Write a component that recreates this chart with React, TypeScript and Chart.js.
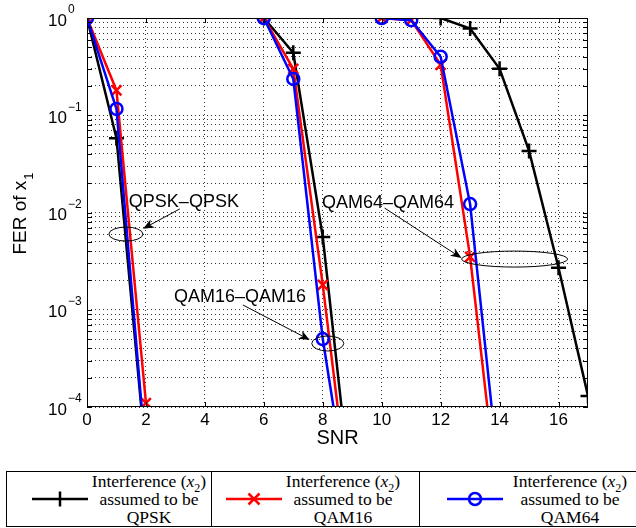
import { useEffect, useRef } from 'react'
import { Chart, registerables } from 'chart.js'

Chart.register(...registerables)

// SNR points of each modulation pair (x1 - x2)
const snrQpsk = [0, 1, 2]
const snrQam16 = [6, 7, 8, 9]
const snrQam64 = [10, 11, 12, 13, 14]
const snrQam64AsQpsk = [12, 13, 14, 15, 16, 17]

// FER of x1, interference assumed to be QPSK (black)
const ferQpskAsQpsk = [1, 0.058, 3e-5]
const ferQam16AsQpsk = [1, 0.44, 0.0056, 1e-5]
const ferQam64AsQpsk = [1, 0.78, 0.3, 0.043, 0.0027, 1.3e-4]

// FER of x1, interference assumed to be QAM16 (red)
const ferQpskAsQam16 = [1, 0.18, 1.1e-4]
const ferQam16AsQam16 = [1, 0.3, 0.0018, 6e-6]
const ferQam64AsQam16 = [1, 0.95, 0.33, 0.0035, 8e-6]

// FER of x1, interference assumed to be QAM64 (blue)
const ferQpskAsQam64 = [1, 0.116, 3e-5]
const ferQam16AsQam64 = [1, 0.236, 5e-4, 6e-6]
const ferQam64AsQam64 = [1, 0.95, 0.4, 0.0122, 1.7e-5]

const xTicks = [0, 2, 4, 6, 8, 10, 12, 14, 16]
const yDecades = [0, -1, -2, -3, -4]
const legendNames = ['QPSK', 'QAM16', 'QAM64']

// annotation: label, text anchor, ellipse centre, arrow start / end (data coords)
const annotations = [
  { label: 'QPSK–QPSK', text: [1.42, 0.0128], ellipse: [1.32, 0.006], rx: 17, ry: 7, from: [3.15, 0.0109], to: [1.9, 0.0068] },
  { label: 'QAM16–QAM16', text: [2.95, 0.00134], ellipse: [8.17, 4.5e-4], rx: 16, ry: 7.5, from: [5.29, 0.00112], to: [7.56, 4.9e-4] },
  { label: 'QAM64–QAM64', text: [7.97, 0.0124], ellipse: [14.51, 0.00332], rx: 53, ry: 8, from: [10.1, 0.0111], to: [12.71, 0.0034] }
]

const styles = [
  { color: '#000000', pointStyle: 'cross', radius: 7.5, order: 3 },
  { color: '#ff0000', pointStyle: 'crossRot', radius: 7, order: 2 },
  { color: '#0000ff', pointStyle: 'circle', radius: 6, order: 1 }
]

const curves = [
  { snr: snrQpsk, fer: ferQpskAsQpsk, kind: 0 },
  { snr: snrQam16, fer: ferQam16AsQpsk, kind: 0 },
  { snr: snrQam64AsQpsk, fer: ferQam64AsQpsk, kind: 0 },
  { snr: snrQpsk, fer: ferQpskAsQam16, kind: 1 },
  { snr: snrQam16, fer: ferQam16AsQam16, kind: 1 },
  { snr: snrQam64, fer: ferQam64AsQam16, kind: 1 },
  { snr: snrQpsk, fer: ferQpskAsQam64, kind: 2 },
  { snr: snrQam16, fer: ferQam16AsQam64, kind: 2 },
  { snr: snrQam64, fer: ferQam64AsQam64, kind: 2 }
]

// all log grid positions 1..9 x 10^k
const yGrid: number[] = []
for (let e = -4; e < 0; e++) {
  for (let m = 1; m < 10; m++) yGrid.push(m * Math.pow(10, e))
}
yGrid.push(1)

const SANS = '"Liberation Sans", Arial, sans-serif'

function drawArrow(ctx: CanvasRenderingContext2D, x1: number, y1: number, x2: number, y2: number) {
  const ang = Math.atan2(y2 - y1, x2 - x1)
  const c = Math.cos(ang)
  const s = Math.sin(ang)
  const len = 11
  const half = 4.5
  const notch = 3
  ctx.beginPath()
  ctx.moveTo(x1, y1)
  ctx.lineTo(x2 - c * (len - notch), y2 - s * (len - notch))
  ctx.stroke()
  const bx = x2 - c * len
  const by = y2 - s * len
  ctx.beginPath()
  ctx.moveTo(x2, y2)
  ctx.lineTo(bx - s * half, by + c * half)
  ctx.lineTo(x2 - c * (len - notch), y2 - s * (len - notch))
  ctx.lineTo(bx + s * half, by - c * half)
  ctx.closePath()
  ctx.fill()
}

const matlabOverlay = {
  id: 'matlabOverlay',
  afterDatasetsDraw(chart: any) {
    const { ctx, chartArea: a, scales } = chart
    const xs = scales.x
    const ys = scales.y
    ctx.save()
    ctx.strokeStyle = '#000'
    ctx.fillStyle = '#000'
    ctx.lineWidth = 1

    // axes box
    ctx.strokeRect(a.left + 0.5, a.top + 0.5, a.right - a.left - 1, a.bottom - a.top - 1)

    // inward tick marks
    ctx.beginPath()
    yGrid.forEach((v) => {
      const py = Math.round(ys.getPixelForValue(v)) + 0.5
      ctx.moveTo(a.left, py)
      ctx.lineTo(a.left + 5, py)
      ctx.moveTo(a.right, py)
      ctx.lineTo(a.right - 5, py)
    })
    xTicks.forEach((v) => {
      const px = Math.round(xs.getPixelForValue(v)) + 0.5
      ctx.moveTo(px, a.bottom)
      ctx.lineTo(px, a.bottom - 5)
      ctx.moveTo(px, a.top)
      ctx.lineTo(px, a.top + 5)
    })
    ctx.stroke()

    // y tick labels 10^k
    yDecades.forEach((e) => {
      const py = ys.getPixelForValue(Math.pow(10, e))
      ctx.font = `17px ${SANS}`
      ctx.textAlign = 'right'
      ctx.textBaseline = 'middle'
      ctx.fillText('10', 67, py + 3)
      ctx.font = `12px ${SANS}`
      ctx.textAlign = 'left'
      ctx.fillText(e === 0 ? '0' : `−${-e}`, 68, py - 8)
    })

    // axis titles
    ctx.font = `20px ${SANS}`
    ctx.textAlign = 'center'
    ctx.textBaseline = 'middle'
    ctx.fillText('SNR', (a.left + a.right) / 2, 438)

    ctx.save()
    ctx.translate(21, 214)
    ctx.rotate(-Math.PI / 2)
    const main = 'FER of x'
    ctx.font = `19px ${SANS}`
    const w1 = ctx.measureText(main).width
    ctx.font = `13px ${SANS}`
    const w2 = ctx.measureText('1').width
    ctx.textAlign = 'left'
    ctx.font = `19px ${SANS}`
    ctx.fillText(main, -(w1 + w2) / 2, 0)
    ctx.font = `13px ${SANS}`
    ctx.fillText('1', -(w1 + w2) / 2 + w1 + 1, 8)
    ctx.restore()

    // annotations
    annotations.forEach((an) => {
      ctx.font = `18px ${SANS}`
      ctx.textAlign = 'left'
      ctx.textBaseline = 'middle'
      ctx.fillText(an.label, xs.getPixelForValue(an.text[0]), ys.getPixelForValue(an.text[1]))
      ctx.beginPath()
      ctx.ellipse(xs.getPixelForValue(an.ellipse[0]), ys.getPixelForValue(an.ellipse[1]), an.rx, an.ry, 0, 0, Math.PI * 2)
      ctx.stroke()
      drawArrow(
        ctx,
        xs.getPixelForValue(an.from[0]),
        ys.getPixelForValue(an.from[1]),
        xs.getPixelForValue(an.to[0]),
        ys.getPixelForValue(an.to[1])
      )
    })
    ctx.restore()
  }
}

function LegendIcon({ kind }: { kind: number }) {
  const st = styles[kind]
  return (
    <svg width={56} height={16} style={{ display: 'block' }}>
      <line x1={0} y1={8} x2={56} y2={8} stroke={st.color} strokeWidth={2.5} />
      {kind === 0 && <line x1={28} y1={0.5} x2={28} y2={15.5} stroke={st.color} strokeWidth={2.5} />}
      {kind === 1 && (
        <path d="M22.5 2.5 L33.5 13.5 M33.5 2.5 L22.5 13.5" stroke={st.color} strokeWidth={2.5} fill="none" />
      )}
      {kind === 2 && <circle cx={28} cy={8} r={6} stroke={st.color} strokeWidth={2.5} fill="none" />}
    </svg>
  )
}

// cell widths, icon left and text centre inside each legend cell
const legendCells = [
  { width: 205, icon: 25, text: 142 },
  { width: 208, icon: 14, text: 131 },
  { width: 240, icon: 27, text: 150 }
]

function Legend() {
  return (
    <div
      style={{
        position: 'absolute',
        left: 6,
        top: 471,
        width: 660,
        height: 54,
        border: '1.5px solid #000',
        display: 'flex',
        fontFamily: '"Liberation Serif", "Times New Roman", serif',
        fontSize: 17.5,
        lineHeight: '18px',
        color: '#000'
      }}
    >
      {legendNames.map((name, i) => {
        const cell = legendCells[i]
        return (
          <div
            key={name}
            style={{
              position: 'relative',
              flex: 'none',
              width: cell.width,
              height: '100%',
              borderRight: i < 2 ? '1.5px solid #000' : 'none',
              boxSizing: 'border-box'
            }}
          >
            <div style={{ position: 'absolute', left: cell.icon, top: 19 }}>
              <LegendIcon kind={i} />
            </div>
            <div
              style={{
                position: 'absolute',
                left: cell.text - 75,
                width: 150,
                top: 0,
                textAlign: 'center',
                whiteSpace: 'nowrap'
              }}
            >
              <div>
                Interference (<i>x</i>
                <sub style={{ fontSize: 12, lineHeight: 0 }}>2</sub>)
              </div>
              <div>assumed to be</div>
              <div>{name}</div>
            </div>
          </div>
        )
      })}
    </div>
  )
}

export default function App() {
  const canvasRef = useRef<HTMLCanvasElement | null>(null)

  useEffect(() => {
    const ctx = canvasRef.current?.getContext('2d')
    if (!ctx) return

    const chart = new Chart(ctx, {
      type: 'line',
      data: {
        datasets: curves.map((c) => {
          const st = styles[c.kind]
          return {
            data: c.snr.map((x, i) => ({ x, y: c.fer[i] })),
            borderColor: st.color,
            backgroundColor: 'transparent',
            borderWidth: 2.5,
            pointStyle: st.pointStyle as any,
            pointRadius: st.radius,
            pointBorderWidth: 2.5,
            pointBorderColor: st.color,
            pointBackgroundColor: 'transparent',
            order: st.order,
            tension: 0
          }
        })
      },
      options: {
        responsive: false,
        animation: false,
        events: [],
        layout: { padding: { top: 18, right: 48, left: 0, bottom: 0 } },
        plugins: {
          legend: { display: false },
          tooltip: { enabled: false }
        },
        scales: {
          x: {
            type: 'linear',
            min: 0,
            max: 17,
            afterBuildTicks: (s: any) => {
              s.ticks = xTicks.map((v) => ({ value: v }))
            },
            afterFit: (s: any) => {
              s.height = 53
            },
            grid: { color: '#333', lineWidth: 1, drawTicks: false },
            border: { display: false, dash: [1, 3] },
            ticks: {
              color: '#000',
              font: { family: SANS, size: 17 },
              padding: 3,
              maxRotation: 0,
              autoSkip: false
            }
          },
          y: {
            type: 'logarithmic',
            min: 1e-4,
            max: 1,
            afterBuildTicks: (s: any) => {
              s.ticks = yGrid.map((v) => ({ value: v }))
            },
            afterFit: (s: any) => {
              s.width = 87
            },
            grid: { color: '#333', lineWidth: 1, drawTicks: false },
            border: { display: false, dash: [1, 3] },
            ticks: { display: false }
          }
        }
      },
      plugins: [matlabOverlay]
    })

    return () => {
      chart.destroy()
    }
  }, [])

  return (
    <div style={{ position: 'absolute', left: 0, top: 0, width: 636, height: 528, overflow: 'hidden', background: '#fff' }}>
      <canvas ref={canvasRef} width={636} height={460} style={{ display: 'block', width: 636, height: 460 }} />
      <Legend />
    </div>
  )
}
